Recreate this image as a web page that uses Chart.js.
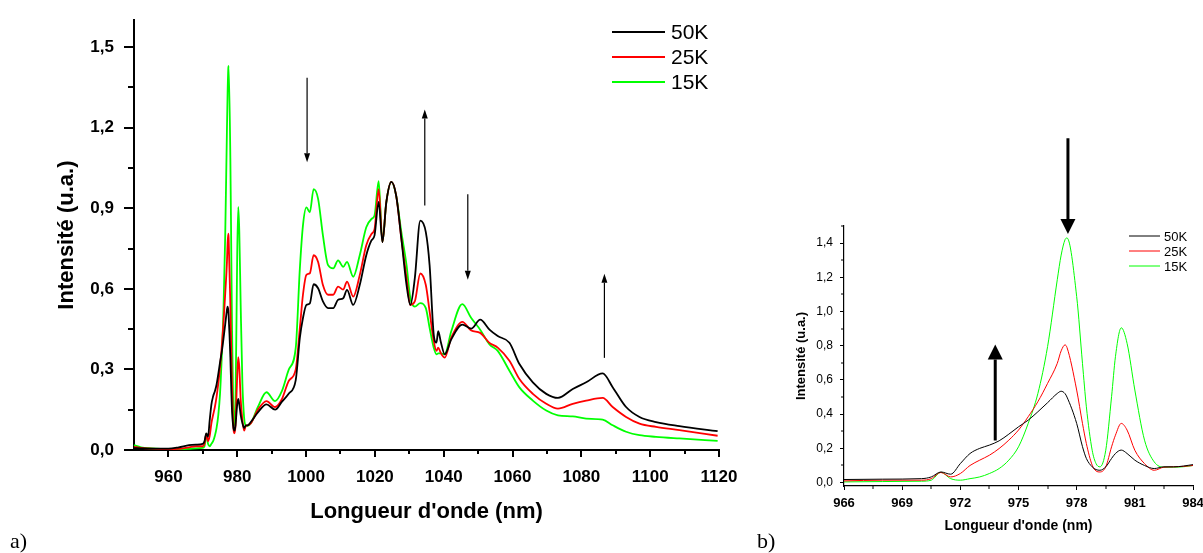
<!DOCTYPE html>
<html>
<head>
<meta charset="utf-8">
<script src="https://cdn.jsdelivr.net/npm/chart.js@4.4.1/dist/chart.umd.min.js"></script>
<style>
  body { margin: 0; background: #fff; width: 1203px; height: 553px; overflow: hidden; position: relative; }
  .box { position: absolute; top: 0; height: 553px; }
  #boxA { left: 0; width: 745px; }
  #boxB { left: 745px; width: 458px; }
  .tag { position: absolute; font-family: "Liberation Serif", "Times New Roman", serif; font-size: 22px; line-height: 22px; color: #000; }
</style>
</head>
<body>
<div class="box" id="boxA"><canvas id="chartA"></canvas></div>
<div class="box" id="boxB"><canvas id="chartB"></canvas></div>
<div class="tag" style="left:10px;top:530px">a)</div>
<div class="tag" style="left:757px;top:530px">b)</div>
<script>
// wavelength (nm), shared by both plots (b is a zoom of a)
var wavelength = [950, 952, 955, 960, 963, 966, 968, 970, 970.5, 971, 971.5, 972, 972.5, 973, 973.5, 974, 974.5, 975, 975.5, 976, 976.5, 977, 977.2, 977.4, 977.5, 978, 978.3, 978.5, 978.8, 979, 979.2, 979.5, 979.8, 980, 980.3, 980.6, 981, 981.5, 982, 982.5, 983, 984, 986, 988.5, 991, 993, 995, 997, 998.2, 999.1, 1000.1, 1001.1, 1002.2, 1003.5, 1004.9, 1006.4, 1007.9, 1009.3, 1010.8, 1011.9, 1013.7, 1015.6, 1017.5, 1019, 1019.9, 1021.1, 1022.2, 1023.3, 1024.8, 1026.2, 1027.7, 1029.2, 1030.3, 1031.6, 1033.2, 1034.8, 1035.9, 1037.1, 1037.9, 1038.4, 1039.2, 1040.3, 1042.2, 1045.4, 1048, 1050.6, 1053.3, 1055.7, 1059.1, 1062, 1065.9, 1069.8, 1073.2, 1077.5, 1081.4, 1086.2, 1089.1, 1093, 1096.9, 1101.7, 1108.5, 1119.6];

var i50K = [0.007, 0.006, 0.005, 0.005, 0.01, 0.018, 0.02, 0.023, 0.033, 0.062, 0.049, 0.111, 0.17, 0.2, 0.219, 0.244, 0.283, 0.326, 0.365, 0.414, 0.467, 0.521, 0.534, 0.52, 0.5, 0.346, 0.21, 0.141, 0.092, 0.076, 0.072, 0.092, 0.141, 0.17, 0.19, 0.17, 0.131, 0.1, 0.082, 0.092, 0.092, 0.105, 0.14, 0.17, 0.15, 0.18, 0.21, 0.26, 0.418, 0.491, 0.54, 0.546, 0.617, 0.602, 0.553, 0.528, 0.528, 0.559, 0.565, 0.596, 0.54, 0.614, 0.725, 0.78, 0.799, 0.924, 0.774, 0.92, 0.998, 0.946, 0.786, 0.614, 0.54, 0.639, 0.854, 0.811, 0.688, 0.43, 0.4, 0.442, 0.4, 0.356, 0.412, 0.467, 0.452, 0.485, 0.448, 0.424, 0.399, 0.32, 0.252, 0.209, 0.194, 0.227, 0.252, 0.285, 0.234, 0.16, 0.123, 0.104, 0.089, 0.07];

var i25K = [0.012, 0.008, 0.005, 0.003, 0.004, 0.01, 0.014, 0.014, 0.023, 0.059, 0.033, 0.053, 0.1, 0.131, 0.16, 0.199, 0.248, 0.307, 0.385, 0.473, 0.58, 0.697, 0.77, 0.805, 0.79, 0.541, 0.346, 0.228, 0.102, 0.068, 0.062, 0.092, 0.209, 0.277, 0.346, 0.307, 0.189, 0.111, 0.072, 0.09, 0.092, 0.1, 0.15, 0.182, 0.16, 0.19, 0.258, 0.3, 0.455, 0.578, 0.652, 0.658, 0.725, 0.7, 0.614, 0.578, 0.578, 0.608, 0.597, 0.627, 0.571, 0.651, 0.762, 0.804, 0.822, 0.971, 0.774, 0.92, 0.998, 0.946, 0.786, 0.639, 0.54, 0.553, 0.657, 0.614, 0.516, 0.406, 0.369, 0.381, 0.36, 0.344, 0.418, 0.477, 0.445, 0.436, 0.399, 0.381, 0.332, 0.264, 0.209, 0.172, 0.154, 0.172, 0.184, 0.194, 0.16, 0.123, 0.098, 0.086, 0.074, 0.053];

var i15K = [0.018, 0.01, 0.006, 0.003, 0.003, 0.004, 0.006, 0.008, 0.014, 0.06, 0.023, 0.014, 0.023, 0.033, 0.053, 0.082, 0.131, 0.209, 0.346, 0.521, 0.795, 1.186, 1.33, 1.42, 1.43, 1.088, 0.697, 0.443, 0.189, 0.111, 0.092, 0.189, 0.502, 0.736, 0.905, 0.814, 0.541, 0.248, 0.121, 0.09, 0.09, 0.1, 0.16, 0.215, 0.182, 0.22, 0.3, 0.38, 0.676, 0.836, 0.903, 0.885, 0.971, 0.935, 0.799, 0.688, 0.676, 0.706, 0.682, 0.7, 0.645, 0.725, 0.829, 0.86, 0.873, 1.001, 0.774, 0.92, 0.998, 0.946, 0.811, 0.688, 0.565, 0.534, 0.547, 0.528, 0.455, 0.381, 0.356, 0.36, 0.36, 0.356, 0.442, 0.543, 0.491, 0.448, 0.393, 0.369, 0.295, 0.233, 0.184, 0.147, 0.129, 0.125, 0.117, 0.113, 0.092, 0.068, 0.055, 0.049, 0.043, 0.034];

// tick values
var xTicksA = [960, 980, 1000, 1020, 1040, 1060, 1080, 1100, 1120];
var xMinorA = [970, 990, 1010, 1030, 1050, 1070, 1090, 1110];
var yTicksA = [0, 0.3, 0.6, 0.9, 1.2, 1.5];
var yMinorA = [0.15, 0.45, 0.75, 1.05, 1.35];
var xTicksB = [966, 969, 972, 975, 978, 981, 984];
var xMinorB = [967.5, 970.5, 973.5, 976.5, 979.5, 982.5];
var yTicksB = [0, 0.2, 0.4, 0.6, 0.8, 1.0, 1.2, 1.4];
var yMinorB = [0.1, 0.3, 0.5, 0.7, 0.9, 1.1, 1.3, 1.5];

// arrows (wavelength, start intensity, tip intensity)
var arrowXA = [1000.3, 1034.5, 1047, 1086.7];
var arrowFromA = [1.386, 0.91, 0.952, 0.343];
var arrowToA = [1.071, 1.268, 0.634, 0.656];
var arrowXB = [977.55, 973.8];
var arrowFromB = [2.013, 0.246];
var arrowToB = [1.453, 0.807];

var F = "'Liberation Sans', Arial, sans-serif";

function series(arr) {
    return wavelength.map(function (w, i) { return {x: w, y: arr[i]}; });
}
function comma(v) {
    return v.toFixed(1).replace('.', ',');
}

//short minor ticks
var minorTicks = {
    id: 'minorTicks',
    afterDraw: function (chart, args, o) {
        var ctx = chart.ctx, xs = chart.scales.x, ys = chart.scales.y, a = chart.chartArea;
        ctx.save();
        ctx.strokeStyle = '#000';
        ctx.lineWidth = o.width;
        ctx.beginPath();
        o.x.forEach(function (v) {
            var p = Math.round(xs.getPixelForValue(v));
            ctx.moveTo(p, a.bottom);
            ctx.lineTo(p, a.bottom + o.xLen);
        });
        o.y.forEach(function (v) {
            var p = Math.round(ys.getPixelForValue(v));
            ctx.moveTo(a.left, p);
            ctx.lineTo(a.left - o.yLen, p);
        });
        ctx.stroke();
        ctx.restore();
    }
};

//legend drawn inside the plot: line then label
var lineLegend = {
    id: 'lineLegend',
    afterDraw: function (chart, args, o) {
        var ctx = chart.ctx;
        ctx.save();
        ctx.font = o.font;
        ctx.textBaseline = 'middle';
        ctx.fillStyle = '#000';
        chart.data.datasets.forEach(function (ds, i) {
            var y = o.y + i * o.rowH;
            ctx.strokeStyle = ds.borderColor;
            ctx.lineWidth = o.lineWidth;
            ctx.beginPath();
            ctx.moveTo(o.x, y);
            ctx.lineTo(o.x + o.len, y);
            ctx.stroke();
            ctx.fillText(ds.label, o.x + o.len + o.gap, y + 1);
        });
        ctx.restore();
    }
};

//vertical arrows
var arrows = {
    id: 'arrows',
    afterDatasetsDraw: function (chart, args, o) {
        var ctx = chart.ctx, xs = chart.scales.x, ys = chart.scales.y;
        ctx.save();
        ctx.strokeStyle = '#000';
        ctx.fillStyle = '#000';
        ctx.lineWidth = o.width;
        o.x.forEach(function (xv, i) {
            var x = xs.getPixelForValue(xv);
            var y0 = ys.getPixelForValue(o.from[i]);
            var y1 = ys.getPixelForValue(o.to[i]);
            var dir = y1 > y0 ? 1 : -1;
            ctx.beginPath();
            ctx.moveTo(x, y0);
            ctx.lineTo(x, y1 - dir * o.head);
            ctx.stroke();
            ctx.beginPath();
            ctx.moveTo(x, y1);
            ctx.lineTo(x - o.headW / 2, y1 - dir * o.head);
            ctx.lineTo(x + o.headW / 2, y1 - dir * o.head);
            ctx.closePath();
            ctx.fill();
        });
        ctx.restore();
    }
};

function datasets(w) {
    return [
        {label: '50K', data: series(i50K), borderColor: '#000000', borderWidth: w},
        {label: '25K', data: series(i25K), borderColor: '#ff0000', borderWidth: w},
        {label: '15K', data: series(i15K), borderColor: '#00ff00', borderWidth: w}
    ];
}

// ---------- a) full spectrum
new Chart(document.getElementById('chartA'), {
    type: 'line',
    data: {datasets: datasets(1.8)},
    options: {
        responsive: true,
        maintainAspectRatio: false,
        animation: false,
        events: [],
        clip: false,
        layout: {padding: {left: 0, top: 16, right: 26, bottom: 0}},
        elements: {point: {radius: 0}, line: {cubicInterpolationMode: 'monotone'}},
        plugins: {
            legend: {display: false},
            tooltip: {enabled: false},
            minorTicks: {x: xMinorA, y: yMinorA, xLen: 4, yLen: 6, width: 2},
            lineLegend: {x: 612, y: 32, rowH: 25, len: 53, gap: 6, lineWidth: 1.8, font: '21px ' + F},
            arrows: {x: arrowXA, from: arrowFromA, to: arrowToA, width: 1.2, head: 9, headW: 6}
        },
        scales: {
            x: {
                type: 'linear', min: 950, max: 1120,
                afterBuildTicks: function (s) { s.ticks = xTicksA.map(function (v) { return {value: v}; }); },
                afterFit: function (s) { s.height = 103; s.paddingLeft = 0; s.paddingRight = 0; },
                grid: {drawOnChartArea: false, tickLength: 7, color: '#000', lineWidth: 2},
                border: {color: '#000', width: 2},
                ticks: {color: '#000', font: {family: F, size: 17, weight: 'bold'}, padding: 10, maxRotation: 0, autoSkip: false,
                    callback: function (v) { return String(v); }},
                title: {display: true, text: "Longueur d'onde (nm)", color: '#000', font: {family: F, size: 22, weight: 'bold'}, padding: {top: 0, bottom: 28}}
            },
            y: {
                type: 'linear', min: 0, max: 1.6,
                afterBuildTicks: function (s) { s.ticks = yTicksA.map(function (v) { return {value: v}; }); },
                afterFit: function (s) { s.width = 134; },
                grid: {drawOnChartArea: false, tickLength: 10, color: '#000', lineWidth: 2},
                border: {color: '#000', width: 2},
                ticks: {color: '#000', font: {family: F, size: 17, weight: 'bold'}, padding: 10, callback: function (v) { return comma(v); }},
                title: {display: true, text: 'Intensité (u.a.)', color: '#000', font: {family: F, size: 22, weight: 'bold'}, padding: {top: 54, bottom: 0}}
            }
        }
    },
    plugins: [minorTicks, lineLegend, arrows]
});

// ---------- b) zoom on 966-984 nm
new Chart(document.getElementById('chartB'), {
    type: 'line',
    data: {datasets: datasets(1)},
    options: {
        responsive: true,
        maintainAspectRatio: false,
        animation: false,
        events: [],
        layout: {padding: {left: 0, top: 226, right: 10, bottom: 0}},
        elements: {point: {radius: 0}, line: {cubicInterpolationMode: 'monotone'}},
        plugins: {
            legend: {display: false},
            tooltip: {enabled: false},
            minorTicks: {x: xMinorB, y: yMinorB, xLen: 3, yLen: 3, width: 1},
            lineLegend: {x: 384, y: 236, rowH: 15, len: 31, gap: 4, lineWidth: 1, font: '13px ' + F},
            arrows: {x: arrowXB, from: arrowFromB, to: arrowToB, width: 3, head: 15, headW: 15}
        },
        scales: {
            x: {
                type: 'linear', min: 966, max: 984,
                afterBuildTicks: function (s) { s.ticks = xTicksB.map(function (v) { return {value: v}; }); },
                afterFit: function (s) { s.height = 67; s.paddingLeft = 0; s.paddingRight = 0; },
                grid: {drawOnChartArea: false, tickLength: 4, color: '#000', lineWidth: 1},
                border: {color: '#000', width: 1.2},
                ticks: {color: '#000', font: {family: F, size: 13, weight: 'bold'}, padding: 6, maxRotation: 0, autoSkip: false,
                    callback: function (v) { return String(v); }},
                title: {display: true, text: "Longueur d'onde (nm)", color: '#000', font: {family: F, size: 14, weight: 'bold'}, padding: {top: 0, bottom: 18}}
            },
            y: {
                type: 'linear', min: -0.02, max: 1.5,
                afterBuildTicks: function (s) { s.ticks = yTicksB.map(function (v) { return {value: v}; }); },
                afterFit: function (s) { s.width = 99; },
                grid: {drawOnChartArea: false, tickLength: 4, color: '#000', lineWidth: 1},
                border: {color: '#000', width: 1.2},
                ticks: {color: '#000', font: {family: F, size: 12}, padding: 7, callback: function (v) { return comma(v); }},
                title: {display: true, text: 'Intensité (u.a.)', color: '#000', font: {family: F, size: 13, weight: 'bold'}, padding: {top: 49, bottom: 0}}
            }
        }
    },
    plugins: [minorTicks, lineLegend, arrows]
});
</script>
</body>
</html>
